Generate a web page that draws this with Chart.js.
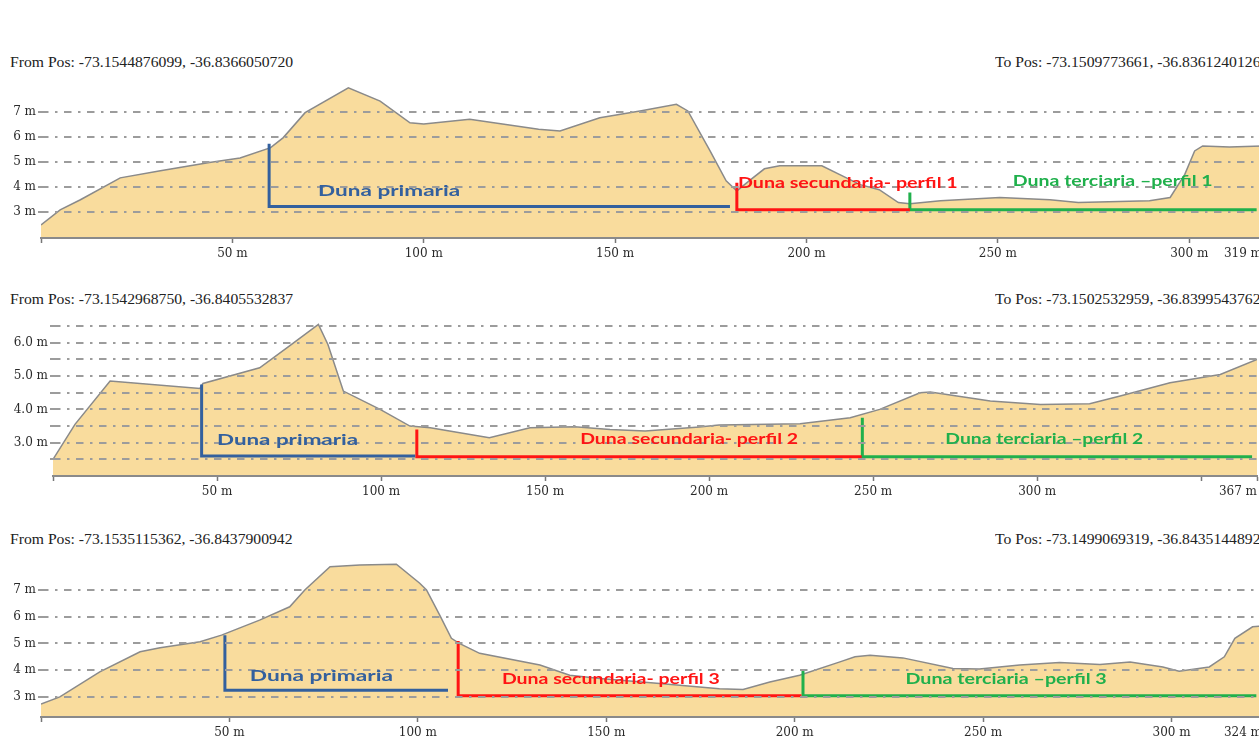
<!DOCTYPE html>
<html>
<head>
<meta charset="utf-8">
<script src="https://cdn.jsdelivr.net/npm/chart.js@4.4.0/dist/chart.umd.min.js"></script>
<style>
    html, body { margin: 0; padding: 0; background: #fff; width: 1259px; height: 751px; overflow: hidden; position: relative; }
    .pos { position: absolute; font: 14px "Liberation Serif", serif; color: #222; white-space: nowrap;
           line-height: 16px; transform: scaleX(1.12); transform-origin: left center; }
    canvas { position: absolute; left: 0; }
</style>
</head>
<body>
<div class="pos" style="left:10px;top:55px" id="from1"></div>
<div class="pos" style="left:995px;top:55px" id="to1"></div>
<div class="pos" style="left:10px;top:292px" id="from2"></div>
<div class="pos" style="left:995px;top:292px" id="to2"></div>
<div class="pos" style="left:10px;top:532px" id="from3"></div>
<div class="pos" style="left:995px;top:532px" id="to3"></div>
<canvas id="perfil1" width="1300" height="190" style="top:72px"></canvas>
<canvas id="perfil2" width="1300" height="193" style="top:307px"></canvas>
<canvas id="perfil3" width="1300" height="193" style="top:548px"></canvas>
<script>
// distancia (m) y elevación (m) de cada perfil
const dist1 = [0, 5, 10.3, 20.7, 31.2, 44, 52, 60, 63.3, 69, 80.3, 88.6, 96.4, 100, 112, 130, 135.6, 146, 156.5, 166,
    169, 174.8, 179, 181.8, 185, 189, 193, 204, 208.7, 214, 219, 224, 227, 235, 250.5, 263.6, 271, 289.6, 295, 298.8,
    301.4, 303.5, 310.5, 319];
const elev1 = [2.5, 3.1, 3.5, 4.37, 4.65, 4.98, 5.16, 5.57, 5.97, 6.96, 7.95, 7.42, 6.56, 6.51, 6.7, 6.3, 6.23, 6.76, 7.03, 7.29,
    7.03, 5.44, 4.25, 3.85, 4.25, 4.73, 4.85, 4.85, 4.5, 4.1, 3.9, 3.39, 3.34, 3.46, 3.59, 3.5, 3.39, 3.46, 3.59, 4.5,
    5.44, 5.64, 5.6, 5.64];

const dist2 = [0, 6.7, 17.4, 44.8, 45.7, 63, 72, 80.9, 83.8, 88.5, 99.7, 108.8, 115, 133, 145.4, 159, 169.8, 180.5, 197, 203,
    227.7, 243, 252, 264.3, 267.4, 285.7, 301, 316, 325.3, 340.5, 355.8, 367];
const elev2 = [2.5, 3.55, 4.85, 4.63, 4.78, 5.25, 5.9, 6.55, 5.95, 4.55, 4.0, 3.5, 3.45, 3.15, 3.45, 3.48, 3.4, 3.35, 3.47, 3.53,
    3.57, 3.75, 4.0, 4.5, 4.52, 4.25, 4.15, 4.17, 4.4, 4.8, 5.05, 5.5];

const dist3 = [0, 5, 15.6, 26.3, 31.6, 42.2, 47.9, 58, 66, 70, 76.7, 84.6, 94.3, 100.5, 102.3, 105.8, 108.9, 111, 116.4, 132.4,
    140.3, 148.3, 164.2, 180, 186.3, 193.4, 201.3, 212, 216, 220, 228.7, 242, 249, 259.7, 270.3, 281, 289, 297.7, 302, 310,
    314, 316.8, 321.5, 324];
const elev3 = [2.73, 3.0, 3.94, 4.69, 4.84, 5.06, 5.31, 5.87, 6.37, 7.0, 7.87, 7.93, 7.96, 7.25, 7.0, 6.06, 5.19, 5.0, 4.63, 4.19,
    3.81, 3.69, 3.5, 3.31, 3.28, 3.56, 3.81, 4.31, 4.5, 4.56, 4.46, 4.06, 4.04, 4.19, 4.29, 4.21, 4.31, 4.12, 3.96, 4.12,
    4.5, 5.19, 5.62, 5.65];

// ticks
const xTicks1 = [0, 50, 100, 150, 200, 250, 300, 319];
const xLabels1 = ['', '50 m', '100 m', '150 m', '200 m', '250 m', '300 m', '319 m'];
const xTicks2 = [0, 50, 100, 150, 200, 250, 300, 350, 367];
const xLabels2 = ['', '50 m', '100 m', '150 m', '200 m', '250 m', '300 m', '', '367 m'];
const xTicks3 = [0, 50, 100, 150, 200, 250, 300, 324];
const xLabels3 = ['', '50 m', '100 m', '150 m', '200 m', '250 m', '300 m', '324 m'];

const yTicks1 = [3, 4, 5, 6, 7];
const yLabels1 = ['3 m', '4 m', '5 m', '6 m', '7 m'];
const yTicks2 = [2.5, 3, 3.5, 4, 4.5, 5, 5.5, 6, 6.5];
const yLabels2 = ['', '3.0 m', '', '4.0 m', '', '5.0 m', '', '6.0 m', ''];
const yTicks3 = [3, 4, 5, 6, 7];
const yLabels3 = ['3 m', '4 m', '5 m', '6 m', '7 m'];

// coordenadas de inicio / fin
const fromPos = ['-73.1544876099, -36.8366050720', '-73.1542968750, -36.8405532837', '-73.1535115362, -36.8437900942'];
const toPos = ['-73.1509773661, -36.8361240126', '-73.1502532959, -36.8399543762', '-73.1499069319, -36.8435144892'];

// tramos de duna [distancia, elevación]
const primaria1 = [[59.6, 5.73], [59.6, 3.23], [180, 3.23]];
const secundaria1 = [[181.8, 4.18], [181.8, 3.1], [227, 3.1]];
const terciaria1 = [[227, 3.79], [227, 3.1], [317.6, 3.1]];
const primaria2 = [[45.3, 4.75], [45.3, 2.6], [110.4, 2.6]];
const secundaria2 = [[110.9, 3.4], [110.9, 2.58], [246.5, 2.58]];
const terciaria2 = [[246.7, 3.75], [246.7, 2.58], [365.5, 2.58]];
const primaria3 = [[48.8, 5.31], [48.8, 3.25], [108, 3.25]];
const secundaria3 = [[110.7, 5.09], [110.7, 3.04], [201.8, 3.04]];
const terciaria3 = [[202.2, 4.04], [202.2, 3.04], [322.5, 3.04]];

// etiquetas: [desde, hasta, elevación]
const etiqueta1 = [[72.4, 109.5, 3.85], [182.1, 239.5, 4.17], [253.9, 306.1, 4.25]];
const etiqueta2 = [[50, 93, 3.1], [160.7, 227.1, 3.13], [272, 332.3, 3.13]];
const etiqueta3 = [[55.4, 93.4, 3.79], [122.3, 180.1, 3.66], [229.4, 282.8, 3.66]];

const colors = ['#33609e', '#ff1414', '#20b04c'];

for (let i = 0; i < 3; i++) {
    document.getElementById('from' + (i + 1)).textContent = 'From Pos: ' + fromPos[i];
    document.getElementById('to' + (i + 1)).textContent = 'To Pos: ' + toPos[i];
}

// dibuja el texto de cada tramo entre dos distancias
const zoneLabels = {
    id: 'zoneLabels',
    afterDraw(chart, args, opts) {
        const ctx = chart.ctx;
        const x = chart.scales.x, y = chart.scales.y;
        opts.items.forEach(function(item, k) {
            const x1 = x.getPixelForValue(item.span[0]);
            const x2 = x.getPixelForValue(item.span[1]);
            const py = y.getPixelForValue(item.span[2]);
            ctx.save();
            ctx.font = 'bold 16px Lato, "Open Sans", sans-serif';
            ctx.fillStyle = colors[k];
            ctx.textBaseline = 'middle';
            const w = ctx.measureText(item.text).width;
            ctx.translate(x1, py);
            ctx.scale((x2 - x1) / w, 1);
            ctx.fillText(item.text, 0, 0);
            ctx.restore();
        });
    }
};

function pts(a) {
    return a.map(function(p) { return { x: p[0], y: p[1] }; });
}

function perfil(id, n, dist, elev, xTicks, xLabels, yTicks, yLabels, tramos, etiquetas, lay) {
    const profile = dist.map(function(d, i) { return { x: d, y: elev[i] }; });
    const sets = tramos.map(function(t, k) {
        return {
            data: pts(t), borderColor: colors[k], borderWidth: 3, pointRadius: 0,
            fill: false, borderJoinStyle: 'miter', borderCapStyle: 'butt', order: 0
        };
    });
    sets.push({
        data: profile, borderColor: '#8a8a8a', borderWidth: 1.5, backgroundColor: '#f9dc9d',
        fill: 'start', pointRadius: 0, tension: 0, order: 1
    });
    const names = ['Duna primaria', 'Duna secundaria- perfil ' + n, 'Duna terciaria \u2013perfil ' + n];
    new Chart(document.getElementById(id), {
        type: 'line',
        data: { datasets: sets },
        options: {
            responsive: false,
            animation: false,
            devicePixelRatio: 1,
            layout: { padding: { top: lay.top, right: lay.right, left: 0, bottom: 0 } },
            plugins: {
                legend: { display: false },
                tooltip: { enabled: false },
                zoneLabels: { items: etiquetas.map(function(e, k) { return { span: e, text: names[k] }; }) }
            },
            scales: {
                x: {
                    type: 'linear', min: 0, max: dist[dist.length - 1],
                    afterBuildTicks: function(s) { s.ticks = xTicks.map(function(v) { return { value: v }; }); },
                    afterFit: function(s) { s.height = 24; },
                    ticks: {
                        autoSkip: false, maxRotation: 0, align: 'inner', padding: 4, color: '#2a2a2a',
                        font: { family: '"DejaVu Serif", serif', size: 12 },
                        callback: function(v, i) { return xLabels[i]; }
                    },
                    grid: { drawOnChartArea: false, drawTicks: true, tickLength: 5, tickColor: '#777', tickWidth: 1.5 },
                    border: { display: true, color: '#8a8a8a', width: 2, z: 2 }
                },
                y: {
                    type: 'linear', min: lay.min, max: lay.max,
                    afterBuildTicks: function(s) { s.ticks = yTicks.map(function(v) { return { value: v }; }); },
                    afterFit: function(s) { s.width = lay.left; },
                    ticks: {
                        padding: 2, color: '#2a2a2a',
                        font: { family: '"DejaVu Serif", serif', size: 12 },
                        callback: function(v, i) { return yLabels[i]; }
                    },
                    grid: { color: '#9c9c9c', lineWidth: 2, tickLength: 3, z: 1 },
                    border: { display: false, dash: [7.5, 6.5, 2.5, 6.5] }
                }
            }
        },
        plugins: [zoneLabels]
    });
}

perfil('perfil1', 1, dist1, elev1, xTicks1, xLabels1, yTicks1, yLabels1,
    [primaria1, secundaria1, terciaria1], etiqueta1, { top: 12, right: 38, left: 41, min: 1.98, max: 8.1 });
perfil('perfil2', 2, dist2, elev2, xTicks2, xLabels2, yTicks2, yLabels2,
    [primaria2, secundaria2, terciaria2], etiqueta2, { top: 12.5, right: 43, left: 53, min: 2.0, max: 6.7 });
perfil('perfil3', 3, dist3, elev3, xTicks3, xLabels3, yTicks3, yLabels3,
    [primaria3, secundaria3, terciaria3], etiqueta3, { top: 12.5, right: 38, left: 41, min: 2.25, max: 8.1 });
</script>
</body>
</html>
